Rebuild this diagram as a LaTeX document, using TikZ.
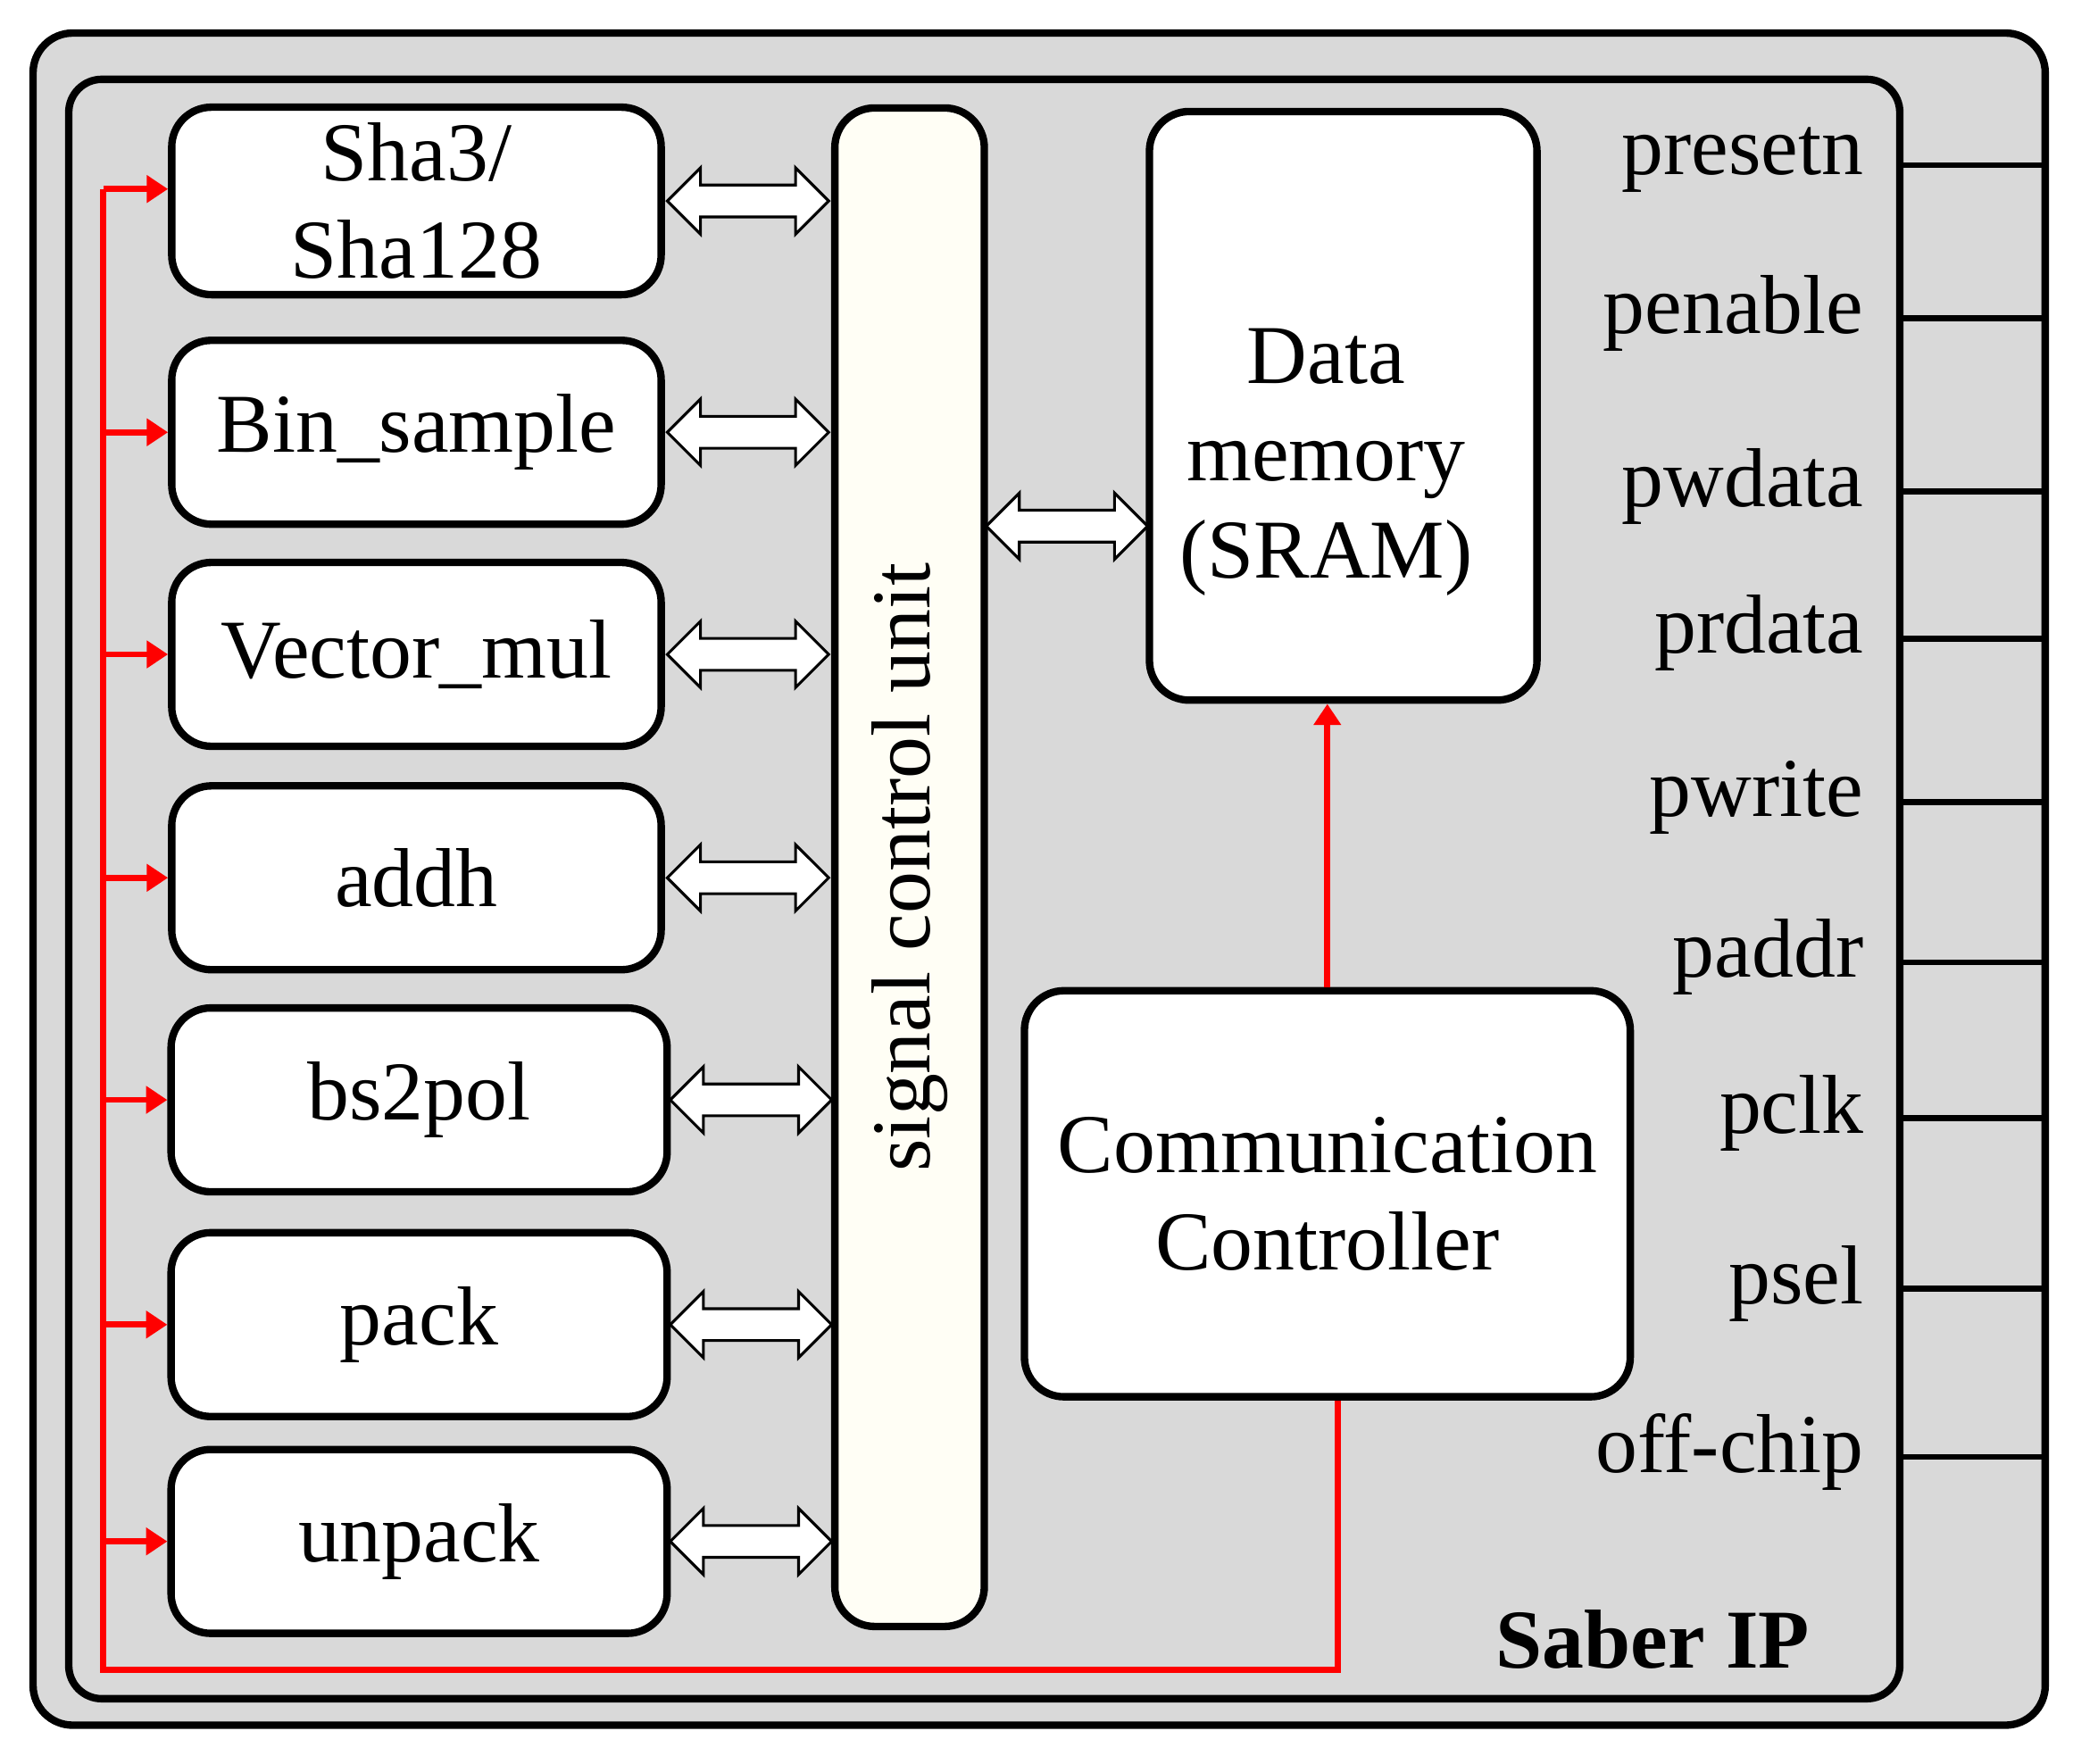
\documentclass[tikz,border=0pt]{standalone}
\usepackage{fontspec}
\setmainfont{Liberation Serif}
\usetikzlibrary{shapes.arrows,arrows.meta,calc}
\begin{document}
\begin{tikzpicture}[x=0.01cm,y=-0.01cm,
 blk/.style={draw,line width=1.6pt,rounded corners=0.3cm,fill=white,align=center,font=\fontsize{18}{21}\selectfont},
 darr/.style={double arrow,draw,fill=white,line width=0.6pt,inner sep=0.11cm,double arrow head extend=0.13cm,double arrow head indent=0pt,minimum height=1.22cm},
 red/.style={draw=red,line width=1.3pt},
 rarr/.style={red,-{Triangle[length=0.16cm,width=0.2cm]}},
 lbl/.style={anchor=east,font=\fontsize{18}{21}\selectfont}]
\useasboundingbox (0,0) rectangle (1568,1334);
\draw[fill=gray!30,line width=1.6pt,rounded corners=0.3cm] (25,25) rectangle (1547,1305);
\draw[fill=gray!30,line width=1.6pt,rounded corners=0.25cm] (52,60) rectangle (1437,1285);
\node[blk,minimum width=3.7cm,minimum height=1.39cm] (b1) at (315,152) {Sha3/\\Sha128};
\node[blk,minimum width=3.7cm,minimum height=1.39cm] (b2) at (315,327) {Bin\_sample};
\node[blk,minimum width=3.7cm,minimum height=1.39cm] (b3) at (315,495) {Vector\_mul};
\node[blk,minimum width=3.7cm,minimum height=1.39cm] (b4) at (315,664) {addh};
\node[blk,minimum width=3.75cm,minimum height=1.39cm] (b5) at (317,832) {bs2pol};
\node[blk,minimum width=3.75cm,minimum height=1.39cm] (b6) at (317,1002) {pack};
\node[blk,minimum width=3.75cm,minimum height=1.39cm] (b7) at (317,1166) {unpack};
\node[blk,fill=yellow!4,minimum width=1.13cm,minimum height=11.48cm] (sig) at (688,656) {};
\node[rotate=90,font=\fontsize{18}{21}\selectfont] (sigt) at (sig.center) {signal control unit};
\node[blk,minimum width=2.93cm,minimum height=4.45cm] (mem) at (1016,307) {};
\node[align=center,font=\fontsize{18}{21}\selectfont,text depth=0pt] (memt) at (1003,343) {\baselineskip=21.5pt Data\\memory\\(SRAM)};
\node[blk,minimum width=4.58cm,minimum height=3.07cm] (cc) at (1004,903) {Communication\\Controller};
\foreach \b in {b1,b2,b3,b4,b5,b6,b7}{
  \node[darr] at ($(\b.east)!0.5!(sig.west |- \b.east)$) {};
}
\node[darr] (dm) at (807,398) {};
\coordinate (rb1) at (78,143);
\draw[rarr] (rb1) -- (rb1 -| b1.west);
\foreach \b in {b2,b3,b4,b5,b6,b7}{
  \coordinate (r\b) at (78,0 |- \b.west);
  \draw[rarr] (r\b) -- (\b.west);
}
\coordinate (rt) at (78,143);
\coordinate (rb) at (78,1263);
\coordinate (rc) at (1012,1263);
\draw[red] (rt) -- (rb) -- (rc) -- (rc |- cc.south);
\draw[rarr] (cc.north -| mem.south) ++(-12,0) coordinate (cm) -- (cm |- mem.south);
\foreach \t/\y in {presetn/125,penable/241,pwdata/372,prdata/483,pwrite/607,paddr/728,pclk/846,psel/975,off-chip/1102}{
  \coordinate (e\t) at (1547,\y);
  \coordinate (s\t) at (1437,\y);
  \draw[line width=1.3pt] (s\t) -- (e\t);
  \node[lbl] (l\t) at (1422,\y-4) {\t};
}
\node[font=\fontsize{18}{21}\selectfont\bfseries] (saber) at (1250,1240) {Saber IP};
\end{tikzpicture}
\end{document}
